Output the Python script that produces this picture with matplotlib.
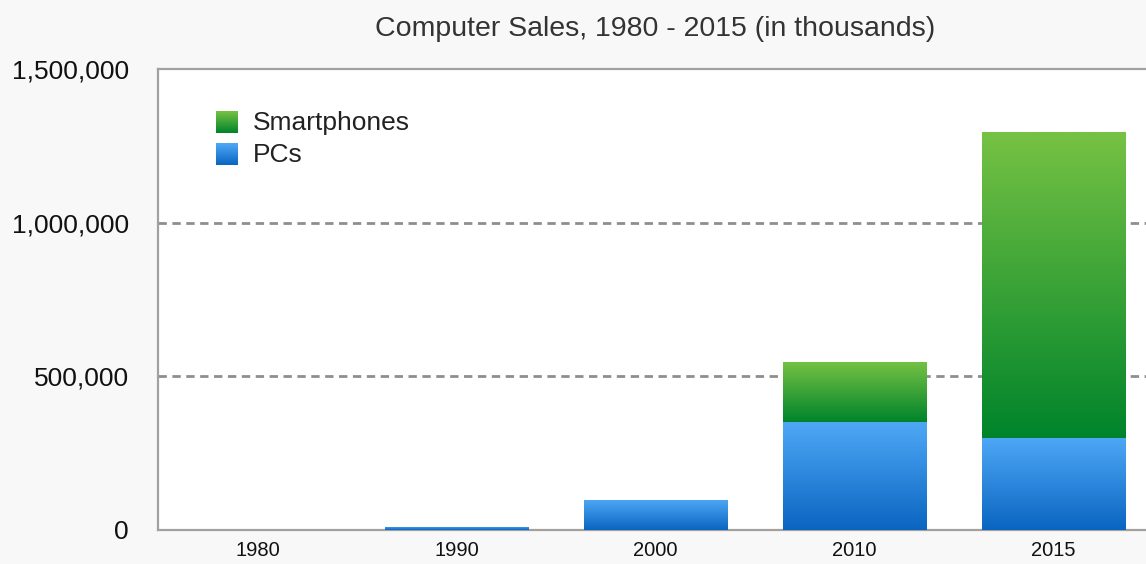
import numpy as np
import matplotlib.pyplot as plt
from matplotlib.colors import LinearSegmentedColormap

# data (thousands of units)
years = ['1980', '1990', '2000', '2010', '2015']
pcs = [0, 11000, 98000, 350000, 300000]
smartphones = [0, 0, 0, 198000, 995000]
yticks = [0, 500000, 1000000, 1500000]

plt.rcParams['font.family'] = ['Liberation Sans', 'DejaVu Sans']

blue_cmap = LinearSegmentedColormap.from_list('blue', ['#0a65c1', '#4fa8f6'])
green_cmap = LinearSegmentedColormap.from_list('green', ['#00842b', '#76c244'])


def gradient_fill(ax, patch, cmap):
    # paint a vertical gradient inside a bar patch
    bb = patch.get_bbox()
    if bb.height <= 0:
        return
    grad = np.linspace(0, 1, 256).reshape(-1, 1)
    im = ax.imshow(grad, cmap=cmap, aspect='auto', origin='lower',
                   extent=[bb.x0, bb.x1, bb.y0, bb.y1], zorder=3,
                   interpolation='bilinear')
    im.set_clip_path(patch)
    patch.set_facecolor('none')


fig = plt.figure(figsize=(11.46, 5.64), dpi=100, facecolor='#f8f8f8')
ax = fig.add_axes([0.1379, 0.0603, 0.868, 0.8174])
ax.set_facecolor('white')

x = np.arange(len(years))
pc_bars = ax.bar(x, pcs, width=0.72, color='#2b86de', zorder=3, linewidth=0)
sp_bars = ax.bar(x, smartphones, width=0.72, bottom=pcs, color='#3aa23a',
                 zorder=3, linewidth=0)
for p in pc_bars:
    gradient_fill(ax, p, blue_cmap)
for p in sp_bars:
    gradient_fill(ax, p, green_cmap)

ax.set_xlim(-0.5, len(years) - 0.5)
ax.set_ylim(0, 1500000)
ax.set_xticks(x)
ax.set_xticklabels(years, fontsize=14.5, color='#111111')
ax.set_yticks(yticks)
ax.set_yticklabels([f'{v:,}' for v in yticks], fontsize=19, color='#111111')
ax.tick_params(length=0)
ax.tick_params(axis='y', pad=21)
ax.tick_params(axis='x', pad=8)

for y in yticks[1:3]:
    ax.axhline(y, color='#8e8e8e', linewidth=2, linestyle=(0, (3, 2)), zorder=1)

for side in ['left', 'top', 'bottom', 'right']:
    ax.spines[side].set_color('#a3a09e')
    ax.spines[side].set_linewidth(1.6)

ax.set_title('Computer Sales, 1980 - 2015 (in thousands)', fontsize=20.5,
             color='#333333', pad=24)

# legend with gradient swatches
legend_items = [('Smartphones', green_cmap), ('PCs', blue_cmap)]
grad = np.linspace(0, 1, 64).reshape(-1, 1)
for i, (name, cmap) in enumerate(legend_items):
    y0 = 0.861 - i * 0.0694
    ax.imshow(grad, cmap=cmap, aspect='auto', origin='lower',
              extent=[0.0583, 0.0804, y0, y0 + 0.0477],
              transform=ax.transAxes, zorder=4)
    ax.text(0.0955, y0 + 0.022, name, transform=ax.transAxes, fontsize=19,
            va='center', ha='left', color='#222222', zorder=4)

ax.set_xlim(-0.5, len(years) - 0.5)
ax.set_ylim(0, 1500000)

fig.savefig('out.png', dpi=100, facecolor=fig.get_facecolor())
